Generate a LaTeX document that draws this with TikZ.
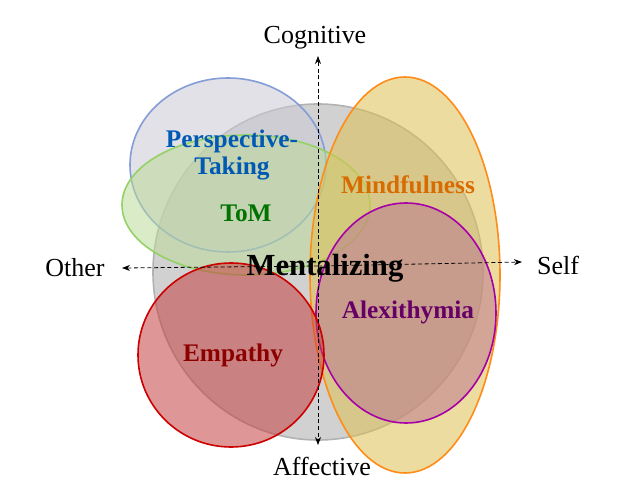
\documentclass[tikz,border=0pt]{standalone}
\usepackage{fontspec}
\setmainfont{Liberation Serif}
\usetikzlibrary{arrows.meta}
\begin{document}
\begin{tikzpicture}[x=0.75pt,y=-0.75pt,
  blob/.style={line width=1.2pt,fill opacity=0.55},
  lab/.style={font=\bfseries\fontsize{19}{20}\selectfont,align=center},
  ax/.style={font=\fontsize{19.5}{21}\selectfont},
  axis/.style={densely dashed,line width=0.6pt,-{Stealth[length=6pt]}}]
\useasboundingbox (0,0) rectangle (640,492);
\fill[white] (0,0) rectangle (640,492);
\draw[blob,draw=gray!60,fill=gray!65] (318,272) ellipse [x radius=165,y radius=168];
\draw[blob,draw=cyan!40!blue!50,fill=cyan!30!blue!20!gray!40] (228,165) ellipse [x radius=98,y radius=87];
\draw[blob,draw=green!40!olive!60,fill=green!30!olive!40] (246,205) ellipse [x radius=124,y radius=70];
\draw[blob,draw=orange!90,fill=yellow!60!orange!70!gray!90] (405,275) ellipse [x radius=95,y radius=198];
\draw[blob,draw=violet!70!magenta,fill=purple!50!gray!70] (406,313) ellipse [x radius=90,y radius=110];
\draw[blob,draw=red!80!black,fill=red!70!black!75] (231,355) ellipse [x radius=93,y radius=92];
\coordinate (c) at (318,266);
\coordinate (top) at (318,56);
\coordinate (bot) at (318,445);
\coordinate (lft) at (122,268);
\coordinate (rgt) at (522,262);
\draw[axis] (c) -- (top);
\draw[axis] (c) -- (bot);
\draw[axis] (c) -- (lft);
\draw[axis] (c) -- (rgt);
\node[ax] (cog) at (315,38) {Cognitive};
\node[ax] (aff) at (322,466) {Affective};
\node[ax] (oth) at (75,268) {Other};
\node[ax] (self) at (558,265) {Self};
\node[lab,font=\bfseries\fontsize{23}{24}\selectfont] (men) at (325,268) {Mentalizing};
\node[lab,text=blue!50!cyan!70!black] (pt) at (232,155) {Perspective-\\Taking};
\node[lab,text=green!45!black] (tom) at (246,213) {ToM};
\node[lab,text=orange!85!black] (mind) at (408,185) {Mindfulness};
\node[lab,text=violet!80!black] (alex) at (408,312) {Alexithymia};
\node[lab,text=red!55!black] (emp) at (233,355) {Empathy};
\end{tikzpicture}
\end{document}
